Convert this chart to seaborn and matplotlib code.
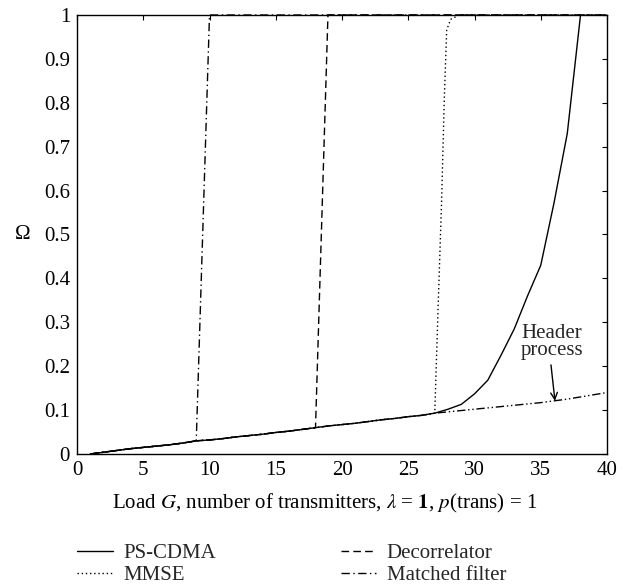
import matplotlib
matplotlib.use("Agg")
import matplotlib.pyplot as plt
import seaborn as sns
import numpy as np

sns.set_theme(style="white")
plt.rcParams['font.family'] = ['Liberation Serif', 'DejaVu Serif']
plt.rcParams['mathtext.fontset'] = 'stix'

# Shared low-load curve (header process)
base_x = list(range(1, 41))
base_y = [0.0, 0.004, 0.008, 0.012, 0.015, 0.018, 0.021, 0.025, 0.030, 0.032,
          0.035, 0.039, 0.042, 0.045, 0.049, 0.052, 0.056, 0.060, 0.064, 0.067,
          0.070, 0.074, 0.078, 0.081, 0.085, 0.088, 0.093, 0.096, 0.099, 0.102,
          0.105, 0.108, 0.111, 0.114, 0.117, 0.121, 0.125, 0.130, 0.135, 0.140]

# Matched filter: follows base to G=9, then jumps
mf_x = base_x[:9] + [10.0, 40.0]
mf_y = base_y[:9] + [1.0, 1.0]

# Decorrelator: follows base to G=18, then jumps
dec_x = base_x[:18] + [18.94, 40.0]
dec_y = base_y[:18] + [1.0, 1.0]

# MMSE: follows base to G=27, then steep rise
mmse_x = base_x[:27] + [27.27, 27.52, 27.72, 27.9, 28.2, 28.85, 40.0]
mmse_y = base_y[:27] + [0.35, 0.58, 0.81, 0.966, 0.99, 1.0, 1.0]

# PS-CDMA
ps_x = base_x[:27] + [28, 29, 30, 31, 32, 33, 34, 35, 36, 37, 38]
ps_y = base_y[:27] + [0.102, 0.113, 0.137, 0.168, 0.225, 0.285, 0.36, 0.43, 0.572, 0.73, 1.0]

x_ticks = [0, 5, 10, 15, 20, 25, 30, 35, 40]
y_ticks = [0, 0.1, 0.2, 0.3, 0.4, 0.5, 0.6, 0.7, 0.8, 0.9, 1.0]
y_tick_labels = ["0", "0.1", "0.2", "0.3", "0.4", "0.5", "0.6", "0.7", "0.8", "0.9", "1"]

FS = 15

fig = plt.figure(figsize=(6.28, 5.88), dpi=100)
ax = fig.add_axes([0.1226, 0.2279, 0.8440, 0.7466])

lw = 1.0
sns.lineplot(x=ps_x, y=ps_y, ax=ax, color='black', lw=lw, estimator=None,
             sort=False, label='PS-CDMA', linestyle='-', clip_on=False)
sns.lineplot(x=mmse_x, y=mmse_y, ax=ax, color='black', lw=lw, estimator=None,
             sort=False, label='MMSE', linestyle=(0, (1, 2)), clip_on=False)
sns.lineplot(x=dec_x, y=dec_y, ax=ax, color='black', lw=lw, estimator=None,
             sort=False, label='Decorrelator', linestyle=(0, (5.5, 3)), clip_on=False)
sns.lineplot(x=mf_x, y=mf_y, ax=ax, color='black', lw=lw, estimator=None,
             sort=False, label='Matched filter', linestyle=(0, (6, 2.5, 1, 2.5)), clip_on=False)
sns.lineplot(x=base_x, y=base_y, ax=ax, color='black', lw=lw, estimator=None,
             sort=False, linestyle=(0, (6, 2, 1, 2, 1, 2)), clip_on=False)

ax.set_xlim(0, 40)
ax.set_ylim(0, 1)
ax.set_xticks(x_ticks)
ax.set_xticklabels([str(t) for t in x_ticks])
ax.set_yticks(y_ticks)
ax.set_yticklabels(y_tick_labels)
ax.tick_params(direction='in', top=True, right=True, length=3.5, width=0.8,
               labelsize=FS, colors='black', pad=5)
for s in ax.spines.values():
    s.set_color('black')
    s.set_linewidth(1.0)

ax.set_xlabel(r"Load $G$, number of transmitters, $\lambda$ = $\mathbf{1}$, $p$(trans) = 1",
              fontsize=FS, color='black')
ax.xaxis.set_label_coords(0.468, -0.112)
ax.xaxis.label.set_va('center')
ax.set_ylabel("Ω", rotation=0, fontsize=FS, color='black', va='center', ha='center')
ax.yaxis.set_label_coords(-0.102, 0.5)

ax.text(35.85, 0.255, "Header\nprocess", ha='center', va='center',
        fontsize=FS, linespacing=0.85)
ax.annotate("", xy=(36.07, 0.121), xytext=(35.77, 0.203),
            arrowprops=dict(arrowstyle='->', color='black', lw=1.0,
                            shrinkA=0, shrinkB=0, mutation_scale=12))

handles, labels = ax.get_legend_handles_labels()
ax.get_legend().remove()
fig.legend(handles, labels, ncol=2, frameon=False, fontsize=FS,
           loc='center left', bbox_to_anchor=(0.11, 0.040),
           handlelength=1.7, handletextpad=0.5, columnspacing=6.0,
           labelspacing=0.1, borderaxespad=0)

fig.savefig("out.png", dpi=100, facecolor='white')
